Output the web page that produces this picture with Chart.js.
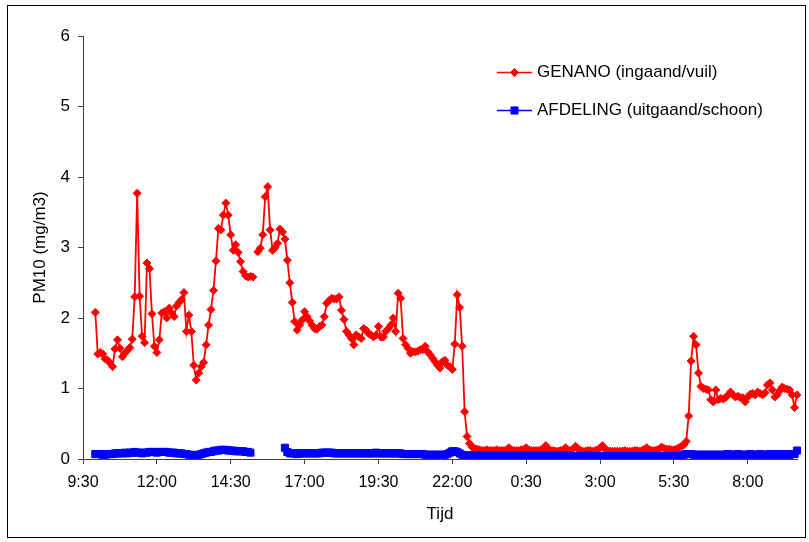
<!DOCTYPE html>
<html><head><meta charset="utf-8">
<script src="https://cdn.jsdelivr.net/npm/chart.js@4/dist/chart.umd.min.js"></script>
<style>html,body{margin:0;padding:0;background:#fff;}canvas{display:block;}</style>
</head><body>
<canvas id="c" width="809" height="542"></canvas>
<script>
// ---- data ----
const startMinutes = 9 * 60 + 30;   // first category 9:30
const stepMinutes = 5;              // one category every 5 minutes
const categoryCount = 291;          // 9:30 .. 9:40 next day
const tickLabels = ['9:30','12:00','14:30','17:00','19:30','22:00','0:30','3:00','5:30','8:00'];
const seriesNames = ['GENANO (ingaand/vuil)', 'AFDELING (uitgaand/schoon)'];

const genano = [
  null,null,null,null,null,2.08,1.49,1.51,1.49,1.42,
  1.40,1.36,1.31,1.56,1.69,1.57,1.45,1.50,1.54,1.58,
  1.70,2.30,3.77,2.31,1.74,1.65,2.78,2.70,2.06,1.60,
  1.51,1.69,2.07,2.09,2.00,2.14,2.07,2.02,2.17,2.22,
  2.26,2.36,1.81,2.04,1.81,1.33,1.12,1.22,1.31,1.37,
  1.62,1.90,2.12,2.39,2.81,3.27,3.25,3.46,3.63,3.46,
  3.18,2.96,3.04,2.93,2.80,2.66,2.60,2.58,2.59,2.58,
  null,2.94,2.99,3.18,3.72,3.86,3.25,2.96,3.00,3.06,
  3.26,3.22,3.12,2.82,2.50,2.22,1.95,1.83,1.90,1.97,
  2.09,2.02,1.96,1.90,1.85,1.84,1.88,1.90,2.02,2.21,
  2.25,2.28,2.27,2.27,2.30,2.11,1.98,1.81,1.76,1.71,
  1.62,1.76,1.73,1.71,1.85,1.83,1.78,1.76,1.73,1.76,
  1.88,1.73,1.73,1.81,1.85,1.90,2.00,1.81,2.35,2.28,
  1.71,1.62,1.57,1.50,1.52,1.52,1.53,1.55,1.55,1.60,
  1.52,1.48,1.43,1.38,1.33,1.29,1.38,1.40,1.33,1.31,
  1.27,1.63,2.33,2.15,1.60,0.67,0.32,0.22,0.17,0.15,
  0.14,0.13,0.12,0.12,0.13,0.12,0.12,0.12,0.13,0.12,
  0.12,0.12,0.13,0.16,0.13,0.12,0.12,0.12,0.13,0.14,
  0.16,0.13,0.12,0.12,0.12,0.12,0.13,0.15,0.19,0.14,
  0.12,0.12,0.11,0.11,0.12,0.13,0.16,0.13,0.12,0.14,
  0.18,0.15,0.12,0.11,0.11,0.12,0.12,0.11,0.12,0.13,
  0.16,0.19,0.14,0.12,0.11,0.11,0.11,0.11,0.11,0.11,
  0.12,0.11,0.11,0.11,0.12,0.12,0.11,0.12,0.14,0.16,
  0.13,0.12,0.12,0.13,0.14,0.17,0.15,0.14,0.14,0.13,
  0.13,0.14,0.16,0.18,0.20,0.25,0.61,1.39,1.74,1.62,
  1.22,1.03,1.00,0.99,0.98,0.84,0.81,0.98,0.84,0.86,
  0.85,0.87,0.91,0.95,0.91,0.88,0.89,0.87,0.87,0.81,
  0.88,0.92,0.93,0.91,0.95,0.93,0.91,0.94,1.05,1.08,
  0.98,0.88,0.91,0.97,1.02,1.00,0.99,0.98,0.91,0.73,
  0.91
];

const afdeling = [
  null,null,null,null,null,0.07,0.07,0.07,0.06,0.06,
  0.07,0.07,0.07,0.08,0.08,0.08,0.08,0.09,0.08,0.09,
  0.09,0.10,0.09,0.09,0.08,0.09,0.09,0.10,0.10,0.10,
  0.09,0.10,0.10,0.10,0.10,0.09,0.09,0.09,0.08,0.08,
  0.08,0.07,0.07,0.06,0.06,0.05,0.05,0.06,0.07,0.08,
  0.09,0.10,0.10,0.11,0.12,0.12,0.13,0.13,0.13,0.12,
  0.12,0.12,0.11,0.11,0.11,0.11,0.10,0.10,0.09,null,
  null,null,null,null,null,null,null,null,null,null,
  null,null,0.16,0.10,0.08,0.08,0.08,0.07,0.08,0.08,
  0.08,0.08,0.08,0.08,0.08,0.08,0.08,0.09,0.09,0.09,
  0.09,0.09,0.08,0.08,0.08,0.08,0.08,0.08,0.08,0.08,
  0.08,0.08,0.08,0.08,0.08,0.08,0.08,0.08,0.08,0.09,
  0.08,0.08,0.08,0.08,0.08,0.08,0.08,0.08,0.08,0.08,
  0.07,0.07,0.07,0.07,0.07,0.07,0.07,0.07,0.07,0.06,
  0.06,0.06,0.06,0.06,0.06,0.06,0.06,0.06,0.07,0.09,
  0.11,0.11,0.10,0.08,0.06,0.05,0.05,0.05,0.05,0.05,
  0.05,0.05,0.05,0.05,0.05,0.05,0.05,0.05,0.05,0.05,
  0.05,0.05,0.05,0.05,0.05,0.05,0.05,0.05,0.05,0.05,
  0.05,0.05,0.05,0.05,0.05,0.05,0.05,0.05,0.05,0.05,
  0.05,0.05,0.05,0.05,0.05,0.05,0.05,0.05,0.04,0.04,
  0.04,0.04,0.04,0.04,0.04,0.05,0.04,0.04,0.04,0.04,
  0.04,0.04,0.04,0.04,0.04,0.04,0.04,0.04,0.04,0.04,
  0.04,0.04,0.04,0.04,0.04,0.04,0.04,0.04,0.04,0.04,
  0.04,0.04,0.04,0.04,0.04,0.04,0.04,0.04,0.04,0.04,
  0.04,0.04,0.04,0.05,0.06,0.07,0.07,0.07,0.06,0.06,
  0.06,0.06,0.06,0.06,0.06,0.06,0.06,0.06,0.06,0.06,
  0.06,0.06,0.07,0.06,0.06,0.06,0.07,0.06,0.06,0.06,
  0.06,0.07,0.06,0.06,0.06,0.07,0.06,0.06,0.06,0.07,
  0.06,0.06,0.07,0.06,0.06,0.07,0.06,0.06,0.07,0.07,
  0.12
];

// ---- categories (time of day) ----
const categories = [];
for (let i = 0; i < categoryCount; i++) {
  const m = (startMinutes + i * stepMinutes) % 1440;
  categories.push(Math.floor(m / 60) + ':' + String(m % 60).padStart(2, '0'));
}

const FONT = '"Liberation Sans", Arial, sans-serif';
const RED = '#FF0000', BLUE = '#0000FF', AXIS = '#404040';

const decorPlugin = {
  id: 'decor',
  afterDraw(chart) {
    const ctx = chart.ctx;
    ctx.save();
    ctx.strokeStyle = '#000';
    ctx.lineWidth = 1;
    ctx.strokeRect(7.5, 5.5, 798, 532);
    const items = [
      { text: seriesNames[0], color: RED, style: 'rectRot', r: 4, y: 72.5 },
      { text: seriesNames[1], color: BLUE, style: 'rect', r: 5, y: 110.5 }
    ];
    items.forEach(it => {
      ctx.strokeStyle = it.color;
      ctx.lineWidth = 1.5;
      ctx.beginPath(); ctx.moveTo(497, it.y); ctx.lineTo(532, it.y); ctx.stroke();
      ctx.fillStyle = it.color;
      ctx.lineWidth = 1;
      Chart.helpers.drawPoint(ctx, { pointStyle: it.style, radius: it.r, borderWidth: 1, rotation: 0 }, 514.5, it.y);
      ctx.fillStyle = '#000';
      ctx.font = '17px ' + FONT;
      ctx.textBaseline = 'middle';
      ctx.textAlign = 'left';
      ctx.fillText(it.text, 537, it.y);
    });
    ctx.restore();
  }
};

new Chart(document.getElementById('c'), {
  type: 'line',
  data: {
    labels: categories,
    datasets: [
      {
        label: seriesNames[0], data: genano, order: 1,
        borderColor: RED, backgroundColor: RED, borderWidth: 1.8,
        pointStyle: 'rectRot', pointRadius: 4, pointBorderWidth: 1,
        pointBackgroundColor: RED, pointBorderColor: RED,
        spanGaps: false, tension: 0
      },
      {
        label: seriesNames[1], data: afdeling, order: 0,
        borderColor: BLUE, backgroundColor: BLUE, borderWidth: 1.8,
        pointStyle: 'rect', pointRadius: 5, pointBorderWidth: 1,
        pointBackgroundColor: BLUE, pointBorderColor: BLUE,
        spanGaps: false, tension: 0
      }
    ]
  },
  options: {
    responsive: false,
    animation: false,
    events: [],
    layout: { padding: { top: 36, right: 12, left: 0, bottom: 0 } },
    plugins: { legend: { display: false }, tooltip: { enabled: false } },
    scales: {
      x: {
        type: 'category',
        offset: false,
        grid: { display: true, drawOnChartArea: false, drawTicks: true, tickLength: 5, tickColor: AXIS, lineWidth: 1 },
        border: { display: true, color: AXIS, width: 1 },
        ticks: { autoSkip: false, maxRotation: 0, minRotation: 0, padding: 9, color: '#000', font: { family: FONT, size: 16 } },
        afterBuildTicks: s => {
          const seen = new Set();
          s.ticks = s.ticks.filter(t => {
            const lab = categories[t.value];
            if (!tickLabels.includes(lab) || seen.has(lab)) return false;
            seen.add(lab);
            return true;
          });
        },
        afterFit: s => { s.height = 83; },
        title: { display: true, text: 'Tijd', color: '#000', font: { family: FONT, size: 17 }, padding: { top: 0, bottom: 17 } }
      },
      y: {
        min: 0, max: 6,
        grid: { display: true, drawOnChartArea: false, drawTicks: true, tickLength: 5, tickColor: AXIS, lineWidth: 1 },
        border: { display: true, color: AXIS, width: 1 },
        ticks: { stepSize: 1, padding: 8, color: '#000', font: { family: FONT, size: 17 } },
        afterFit: s => { s.width = 83; },
        title: { display: true, text: 'PM10 (mg/m3)', color: '#000', font: { family: FONT, size: 17 }, padding: { top: 30, bottom: 0 } }
      }
    }
  },
  plugins: [decorPlugin]
});
</script>
</body></html>
